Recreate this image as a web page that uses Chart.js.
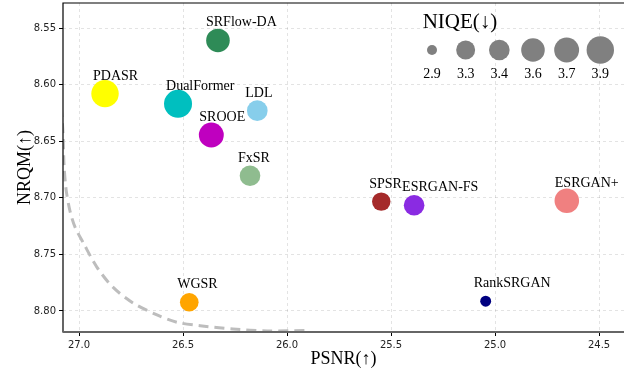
<!DOCTYPE html>
<html>
<head>
<meta charset="utf-8">
<script src="https://cdn.jsdelivr.net/npm/chart.js@4/dist/chart.umd.min.js"></script>
<style>
  body { margin: 0; background: #fff; }
  #wrap { width: 624px; height: 375px; }
</style>
</head>
<body>
<div id="wrap"><canvas id="stat"></canvas></div>
<script>
// values
const models = ["SRFlow-DA", "PDASR", "DualFormer", "LDL", "SROOE", "FxSR", "SPSR", "ESRGAN-FS", "ESRGAN+", "RankSRGAN", "WGSR"];
const psnr = [26.332, 26.875, 26.524, 26.143, 26.364, 26.178, 25.547, 25.389, 24.655, 25.045, 26.470];
const nrqm = [8.561, 8.608, 8.617, 8.623, 8.6445, 8.6805, 8.7034, 8.7066, 8.7026, 8.7914, 8.7923];
const niqe = [3.6, 3.9, 3.95, 3.4, 3.7, 3.4, 3.27, 3.4, 3.67, 2.93, 3.28];
const colors = ["#2e8b57", "#ffff00", "#00bfbf", "#87ceeb", "#bf00bf", "#8fbc8f", "#a52a2a", "#8a2be2", "#f08080", "#000080", "#ffa500"];

const niqeLegend = [2.9, 3.3, 3.4, 3.6, 3.7, 3.9];
const xTicks = [27.0, 26.5, 26.0, 25.5, 25.0, 24.5];
const yTicks = [8.55, 8.60, 8.65, 8.70, 8.75, 8.80];

// dashed trend curve (PSNR, NRQM)
const curveX = [27.085, 27.077, 27.072, 27.062, 27.043, 27.019, 26.979, 26.915, 26.837, 26.740, 26.625, 26.529, 26.418, 26.260, 26.096, 25.899];
const curveY = [8.620, 8.643, 8.671, 8.693, 8.712, 8.726, 8.740, 8.761, 8.779, 8.793, 8.8035, 8.810, 8.813, 8.816, 8.8177, 8.8172];

const serif = "'Liberation Serif', 'Times New Roman', serif";
const radiusFor = (n) => Math.sqrt(163 * (n - 2.747));

const bubbles = models.map((m, i) => ({ x: psnr[i], y: nrqm[i], r: radiusFor(niqe[i]) }));
const curve = curveX.map((x, i) => ({ x: x, y: curveY[i] }));

const extras = {
  id: "extras",
  afterDatasetsDraw(chart) {
    const ctx = chart.ctx;
    const area = chart.chartArea;
    const meta = chart.getDatasetMeta(1);
    ctx.save();
    // point labels
    ctx.fillStyle = "#000";
    ctx.font = "14px " + serif;
    ctx.textAlign = "left";
    ctx.textBaseline = "alphabetic";
    meta.data.forEach((pt, i) => {
      ctx.fillText(models[i], pt.x - 12, pt.y - 14);
    });
    // size legend
    ctx.font = "21px " + serif;
    ctx.textAlign = "center";
    ctx.fillText("NIQE(\u2193)", area.right - 164, 28);
    ctx.font = "14px " + serif;
    niqeLegend.forEach((v, i) => {
      const cx = area.right - 192 + i * 33.66;
      ctx.beginPath();
      ctx.fillStyle = "#808080";
      ctx.arc(cx, 50, radiusFor(v), 0, Math.PI * 2);
      ctx.fill();
      ctx.fillStyle = "#000";
      ctx.fillText(v.toFixed(1), cx, 78);
    });
    // spines
    ctx.lineWidth = 1.2;
    ctx.strokeStyle = "#000";
    ctx.beginPath();
    ctx.moveTo(area.left, area.bottom);
    ctx.lineTo(area.left, area.top);
    ctx.lineTo(area.right, area.top);
    ctx.stroke();
    ctx.lineWidth = 2;
    ctx.strokeStyle = "#666";
    ctx.beginPath();
    ctx.moveTo(area.left - 0.6, area.bottom);
    ctx.lineTo(area.right, area.bottom);
    ctx.stroke();
    ctx.restore();
  },
};

new Chart(document.getElementById("stat"), {
  type: "bubble",
  data: {
    datasets: [
      {
        type: "line",
        data: curve,
        borderColor: "#bdbdbd",
        borderWidth: 3,
        borderDash: [10, 6],
        pointRadius: 0,
        tension: 0.3,
        fill: false,
      },
      {
        data: bubbles,
        backgroundColor: colors,
        borderWidth: 0,
        hoverRadius: 0,
      },
    ],
  },
  options: {
    responsive: true,
    maintainAspectRatio: false,
    animation: false,
    devicePixelRatio: 1,
    layout: { autoPadding: false, padding: { top: 3, right: 0, left: 0, bottom: 0 } },
    plugins: { legend: { display: false }, tooltip: { enabled: false } },
    scales: {
      x: {
        type: "linear",
        reverse: true,
        min: 24.38,
        max: 27.077,
        afterBuildTicks: (s) => { s.ticks = xTicks.map((v) => ({ value: v })); },
        afterFit: (s) => { s.height = 43; s.paddingLeft = 0; s.paddingRight = 0; },
        ticks: {
          callback: (v) => Number(v).toFixed(1),
          color: "#222",
          font: { family: "'DejaVu Sans'", size: 10 },
          padding: 3,
          maxRotation: 0,
        },
        grid: { color: "rgba(0,0,0,0.14)", lineWidth: 0.8, tickColor: "#000", tickLength: 4, tickWidth: 1 },
        border: { display: false, dash: [3, 3] },
        title: { display: true, text: "PSNR(\u2191)", color: "#000", font: { family: serif, size: 18 }, padding: { top: 0, bottom: 5 } },
      },
      y: {
        type: "linear",
        reverse: true,
        min: 8.5279,
        max: 8.8186,
        afterBuildTicks: (s) => { s.ticks = yTicks.map((v) => ({ value: v })); },
        afterFit: (s) => { s.width = 63; s.paddingTop = 0; s.paddingBottom = 0; },
        ticks: {
          callback: (v) => Number(v).toFixed(2),
          color: "#222",
          font: { family: "'DejaVu Sans'", size: 10 },
          padding: 3,
        },
        grid: { color: "rgba(0,0,0,0.14)", lineWidth: 0.8, tickColor: "#000", tickLength: 4, tickWidth: 1 },
        border: { display: false, dash: [3, 3] },
        title: { display: true, text: "NRQM(\u2191)", color: "#000", font: { family: serif, size: 18 }, padding: { top: 14, bottom: 0 } },
      },
    },
  },
  plugins: [extras],
});
</script>
</body>
</html>
